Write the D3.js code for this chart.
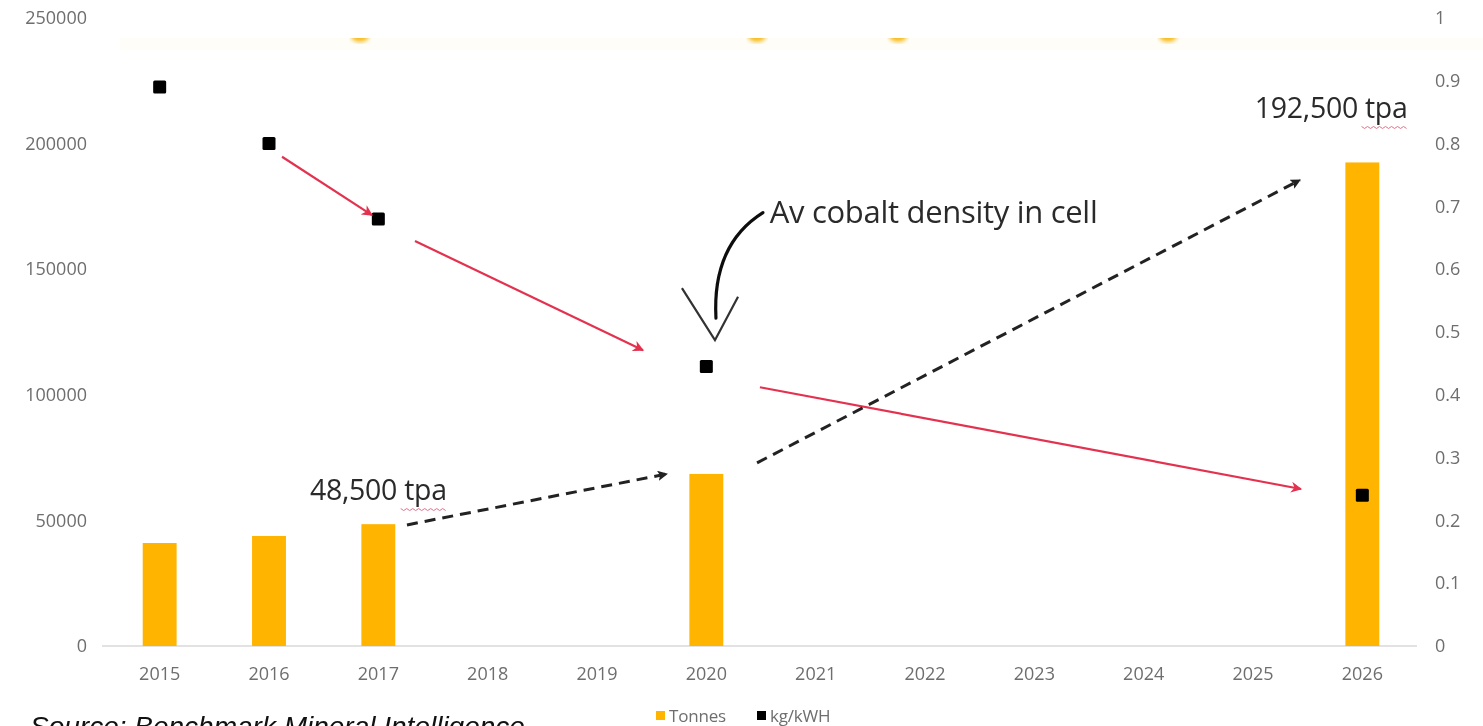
<!DOCTYPE html>
<html>
<head>
<meta charset="utf-8">
<script src="https://cdn.jsdelivr.net/npm/d3@7"></script>
<style>
  html, body { margin: 0; padding: 0; background: #ffffff; overflow: hidden; }
  svg { display: block; }
</style>
</head>
<body>
<svg id="chart" width="1483" height="726"></svg>
<script>
// ---------- data ----------
const years = ['2015','2016','2017','2018','2019','2020','2021','2022','2023','2024','2025','2026'];
const tonnes = [41000, 43800, 48500, null, null, 68500, null, null, null, null, null, 192500];
const kgPerKwh = [0.89, 0.80, 0.68, null, null, 0.445, null, null, null, null, null, 0.24];
const leftTicks = [0, 50000, 100000, 150000, 200000, 250000];
const rightTicks = [0, 0.1, 0.2, 0.3, 0.4, 0.5, 0.6, 0.7, 0.8, 0.9, 1];
const legendLabels = ['Tonnes', 'kg/kWH'];
const sourceText = 'Source: Benchmark Mineral Intelligence';

// annotations in data space: i = fractional category index, v = kg/kWh, t = tonnes
const redArrows = [
  {i1: 1.119, v1: 0.779, i2: 1.942, v2: 0.686},
  {i1: 2.335, v1: 0.645, i2: 4.421, v2: 0.471},
  {i1: 5.490, v1: 0.412, i2: 10.439, v2: 0.250}
];
const dashedArrows = [
  {i1: 2.262, t1: 48200, i2: 4.640, t2: 68500},
  {i1: 5.464, t1: 72900, i2: 10.430, t2: 185500}
];
const textLabels = [
  {text: '48,500 tpa', i: 1.375, t: 58100},
  {text: '192,500 tpa', i: 10.017, t: 210200}
];
const calloutText = {text: 'Av cobalt density in cell', i: 5.58, v: 0.674};
const calloutCurve = {i1: 5.518, v1: 0.690, ic: 5.052, vc: 0.639, i2: 5.088, v2: 0.522};
const calloutHead = [{i: 4.777, v: 0.570}, {i: 5.079, v: 0.487}, {i: 5.29, v: 0.556}];
const topBlobs = [1.832, 5.463, 6.753, 9.222];

// ---------- layout ----------
const svg = d3.select('#chart');
const plotLeft = 105, plotRight = 1417, plotTop = 18, plotBottom = 646;
const colBar = '#ffb400';
const colText = '#6e6e6e';
const colRed = '#e3324f';
const tickFont = '"Open Sans", sans-serif';

const x = d3.scaleBand().domain(years).range([plotLeft, plotRight])
  .paddingInner(0.69).paddingOuter(0.345);
const yL = d3.scaleLinear().domain([0, 250000]).range([plotBottom, plotTop]);
const yR = d3.scaleLinear().domain([0, 1]).range([plotBottom, plotTop]);
const step = x.step();
const xi = i => x(years[0]) + x.bandwidth() / 2 + i * step;

const defs = svg.append('defs');
defs.append('filter').attr('id', 'blur').append('feGaussianBlur').attr('stdDeviation', 2);
defs.append('filter').attr('id', 'soft').append('feGaussianBlur').attr('stdDeviation', 0.45);
defs.append('clipPath').attr('id', 'topclip').append('rect')
  .attr('x', 0).attr('y', 38).attr('width', 1483).attr('height', 20);
defs.append('marker').attr('id', 'redhead').attr('viewBox', '0 0 10 10')
  .attr('refX', 9).attr('refY', 5).attr('markerWidth', 5).attr('markerHeight', 5)
  .attr('orient', 'auto').attr('markerUnits', 'strokeWidth')
  .append('path').attr('d', 'M0,0 L10,5 L0,10 L3,5 Z').attr('fill', colRed);
defs.append('marker').attr('id', 'blackhead').attr('viewBox', '0 0 10 10')
  .attr('refX', 9).attr('refY', 5).attr('markerWidth', 3.4).attr('markerHeight', 3.4)
  .attr('orient', 'auto').attr('markerUnits', 'strokeWidth')
  .append('path').attr('d', 'M0,0 L10,5 L0,10 L2,5 Z').attr('fill', '#222');

// faint top strip with orange blobs (cropped title remains)
svg.append('rect').attr('x', 120).attr('y', 38).attr('width', 1363).attr('height', 12)
  .attr('fill', '#fefdf8');
svg.append('g').attr('clip-path', 'url(#topclip)')
  .selectAll('ellipse').data(topBlobs).join('ellipse')
  .attr('cx', d => xi(d)).attr('cy', 36).attr('rx', 9).attr('ry', 6)
  .attr('fill', '#f5b300').attr('filter', 'url(#blur)').attr('opacity', 0.9);

const content = svg.append('g').attr('filter', 'url(#soft)');

// baseline
content.append('line').attr('x1', plotLeft - 3).attr('x2', plotRight)
  .attr('y1', yL(0)).attr('y2', yL(0)).attr('stroke', '#d9d9d9').attr('stroke-width', 1.5);

// axes
const axL = content.append('g').attr('transform', `translate(${plotLeft - 3},0)`)
  .call(d3.axisLeft(yL).tickValues(leftTicks).tickSize(0).tickPadding(15).tickFormat(d3.format('d')));
const axR = content.append('g').attr('transform', `translate(${plotRight},0)`)
  .call(d3.axisRight(yR).tickValues(rightTicks).tickSize(0).tickPadding(18).tickFormat(d => d3.format('~g')(d)));
const axB = content.append('g').attr('transform', `translate(0,${plotBottom})`)
  .call(d3.axisBottom(x).tickSize(0).tickPadding(21));
[axL, axR, axB].forEach(a => {
  a.select('.domain').remove();
  a.selectAll('text').attr('fill', colText).style('font-family', tickFont).style('font-size', '18px');
});

// bars
const barData = years.map((y, k) => ({year: y, val: tonnes[k]})).filter(d => d.val != null);
content.append('g').selectAll('rect').data(barData).join('rect')
  .attr('x', d => x(d.year)).attr('width', x.bandwidth())
  .attr('y', d => yL(d.val)).attr('height', d => yL(0) - yL(d.val))
  .attr('fill', colBar);

// points
const ptData = years.map((y, k) => ({year: y, val: kgPerKwh[k]})).filter(d => d.val != null);
const ps = 13;
content.append('g').selectAll('rect').data(ptData).join('rect')
  .attr('x', d => x(d.year) + x.bandwidth() / 2 - ps / 2)
  .attr('y', d => yR(d.val) - ps / 2)
  .attr('width', ps).attr('height', ps).attr('rx', 1.5)
  .attr('fill', '#000');

// red arrows
content.append('g').selectAll('line').data(redArrows).join('line')
  .attr('x1', d => xi(d.i1)).attr('y1', d => yR(d.v1))
  .attr('x2', d => xi(d.i2)).attr('y2', d => yR(d.v2))
  .attr('stroke', colRed).attr('stroke-width', 2.2)
  .attr('marker-end', 'url(#redhead)');

// dashed arrows
content.append('g').selectAll('line').data(dashedArrows).join('line')
  .attr('x1', d => xi(d.i1)).attr('y1', d => yL(d.t1))
  .attr('x2', d => xi(d.i2)).attr('y2', d => yL(d.t2))
  .attr('stroke', '#222').attr('stroke-width', 3)
  .attr('stroke-dasharray', '11,7')
  .attr('marker-end', 'url(#blackhead)');

// tpa labels with spell-check squiggle under "tpa"
textLabels.forEach(l => {
  const t = content.append('text').attr('x', xi(l.i)).attr('y', yL(l.t))
    .attr('fill', '#2b2b2b').style('font-family', tickFont).style('font-size', '28.5px')
    .style('letter-spacing', '-0.3px')
    .text(l.text);
  const bb = t.node().getBBox();
  const x0 = bb.x + bb.width - 46, x1 = bb.x + bb.width, yb = yL(l.t) + 9;
  const pts = [];
  for (let k = 0; x0 + k * 3 <= x1; k++) pts.push([x0 + k * 3, yb + (k % 2 ? 1.5 : -0.5)]);
  content.append('path').attr('d', d3.line()(pts)).attr('fill', 'none')
    .attr('stroke', '#e0708a').attr('stroke-width', 1);
});

// callout
content.append('text').attr('x', xi(calloutText.i)).attr('y', yR(calloutText.v))
  .attr('fill', '#2b2b2b').style('font-family', tickFont).style('font-size', '31px')
  .style('letter-spacing', '-0.3px')
  .text(calloutText.text);
const cc = calloutCurve;
content.append('path')
  .attr('d', `M${xi(cc.i1)},${yR(cc.v1)} Q${xi(cc.ic)},${yR(cc.vc)} ${xi(cc.i2)},${yR(cc.v2)}`)
  .attr('fill', 'none').attr('stroke', '#111').attr('stroke-width', 3.2).attr('stroke-linecap', 'round');
content.append('path')
  .attr('d', d3.line().x(d => xi(d.i)).y(d => yR(d.v))(calloutHead))
  .attr('fill', 'none').attr('stroke', '#333').attr('stroke-width', 2.2);

// legend
const lg = content.append('g').attr('transform', 'translate(656,716)');
const legendColors = [colBar, '#000'];
const legendX = [0, 101];
legendLabels.forEach((lab, k) => {
  lg.append('rect').attr('x', legendX[k]).attr('y', -5).attr('width', 9).attr('height', 9)
    .attr('fill', legendColors[k]);
  lg.append('text').attr('x', legendX[k] + 13).attr('y', 6)
    .attr('fill', colText).style('font-family', tickFont).style('font-size', '17px')
    .style('letter-spacing', '-0.2px')
    .text(lab);
});

// source line (partially cut at the bottom, as in the reference)
svg.append('text').attr('x', 30).attr('y', 736)
  .attr('fill', '#111').style('font-family', '"Liberation Sans", Arial, sans-serif')
  .style('font-size', '28px').style('font-style', 'italic')
  .text(sourceText);
</script>
</body>
</html>
